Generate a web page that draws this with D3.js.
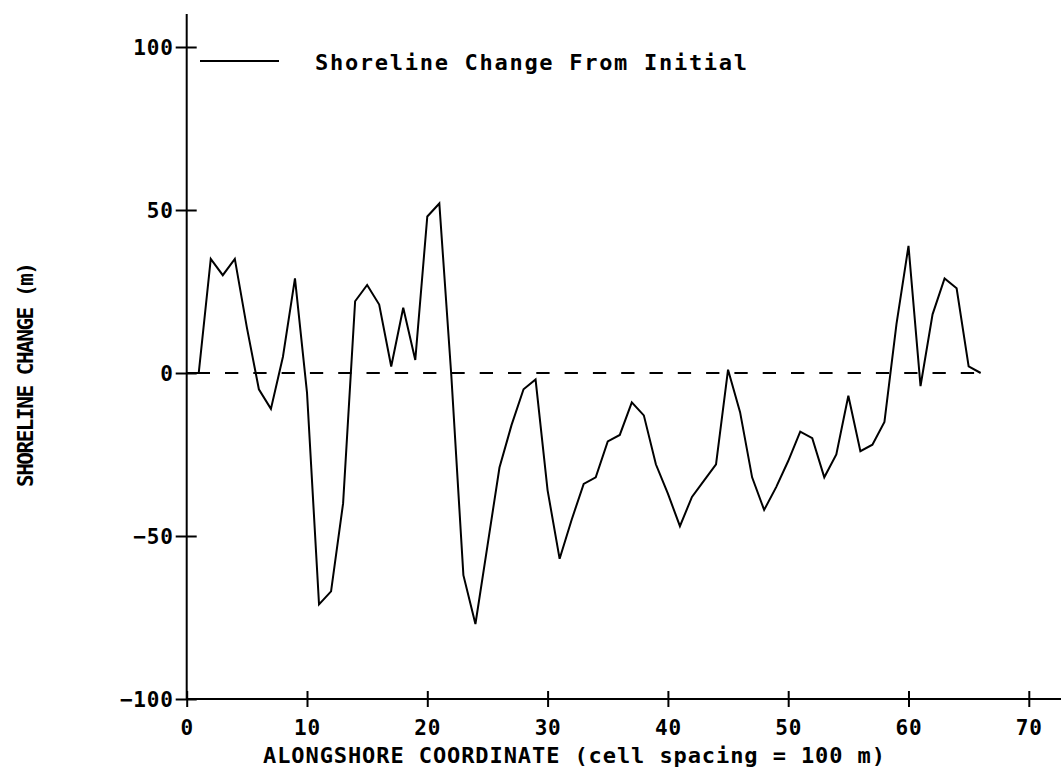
<!DOCTYPE html>
<html>
<head>
<meta charset="utf-8">
<script src="https://cdn.jsdelivr.net/npm/d3@7"></script>
<style>
  html, body { margin: 0; padding: 0; background: #fff; }
  svg { display: block; }
  text { font-family: "DejaVu Sans Mono", "Liberation Mono", monospace; font-weight: bold; fill: #000; }
</style>
</head>
<body>
<svg id="chart" width="1061" height="771"></svg>
<script>
// Alongshore cell numbers and shoreline change from the initial position (m)
const cells = [0,1,2,3,4,5,6,7,8,9,10,11,12,13,14,15,16,17,18,19,20,21,22,23,24,25,26,27,28,29,30,31,32,33,
  34,35,36,37,38,39,40,41,42,43,44,45,46,47,48,49,50,51,52,53,54,55,56,57,58,59,60,61,62,63,64,65,66];
const change = [0,0,35,30,35,14,-5,-11,5,29,-6,-71,-67,-40,22,27,21,2,20,4,48,52,-1,-62,-77,-53,-29,-16,-5,-2,
  -36,-57,-45,-34,-32,-21,-19,-9,-13,-28,-37,-47,-38,-33,-28,1,-12,-32,-42,-35,-27,-18,-20,-32,-25,-7,-24,-22,-15,
  15,39,-4,18,29,26,2,0];

const xTicks = [0, 10, 20, 30, 40, 50, 60, 70];
const yTicks = [-100, -50, 0, 50, 100];
const seriesName = "Shoreline Change From Initial";
const xTitle = "ALONGSHORE COORDINATE (cell spacing = 100 m)";
const yTitle = "SHORELINE CHANGE (m)";

const svg = d3.select("#chart");
const ink = "#000";

const x = d3.scaleLinear().domain([0, 70]).range([186.7, 1028.8]);
const y = d3.scaleLinear().domain([-100, 100]).range([699, 47]);

// axis lines
svg.append("line").attr("x1", x(0)).attr("x2", 1061).attr("y1", y(-100)).attr("y2", y(-100))
  .attr("stroke", ink).attr("stroke-width", 2);
svg.append("line").attr("x1", x(0)).attr("x2", x(0)).attr("y1", 14).attr("y2", y(-100))
  .attr("stroke", ink).attr("stroke-width", 2);

// x axis ticks and labels
const gx = svg.append("g").attr("transform", `translate(0,${y(-100)})`)
  .call(d3.axisBottom(x).tickValues(xTicks).tickFormat(d3.format("d")).tickSize(8));
gx.select(".domain").remove();
gx.selectAll(".tick line").attr("y1", -8).attr("y2", 8).attr("stroke", ink).attr("stroke-width", 2);
gx.selectAll(".tick text").attr("y", 35.5).attr("dy", null)
  .attr("font-size", 21).attr("font-family", null).attr("letter-spacing", 0.8);

// y axis ticks and labels
const gy = svg.append("g").attr("transform", `translate(${x(0)},0)`)
  .call(d3.axisLeft(y).tickValues(yTicks).tickFormat(d3.format("d")).tickSize(11));
gy.select(".domain").remove();
gy.selectAll(".tick line").attr("x1", -11).attr("x2", 10).attr("stroke", ink).attr("stroke-width", 2);
gy.selectAll(".tick text").attr("x", -13).attr("dy", "0.37em")
  .attr("font-size", 21).attr("font-family", null).attr("letter-spacing", 0.8);

// zero reference line
svg.append("line")
  .attr("x1", x(cells[0])).attr("x2", x(cells[cells.length - 1]))
  .attr("y1", y(0)).attr("y2", y(0))
  .attr("stroke", ink).attr("stroke-width", 2)
  .attr("stroke-dasharray", "13.3 15").attr("stroke-dashoffset", 18.3);

// shoreline change line
const line = d3.line().x((d, i) => x(cells[i])).y(d => y(d));
svg.append("path").datum(change)
  .attr("d", line).attr("fill", "none")
  .attr("stroke", ink).attr("stroke-width", 2).attr("stroke-linejoin", "miter");

// legend
svg.append("line").attr("x1", 200).attr("x2", 279).attr("y1", 61).attr("y2", 61)
  .attr("stroke", ink).attr("stroke-width", 2);
svg.append("text").attr("x", 315).attr("y", 69.5)
  .attr("font-size", 22).attr("textLength", 432).attr("lengthAdjust", "spacing")
  .text(seriesName);

// axis titles
svg.append("text").attr("x", 263).attr("y", 763)
  .attr("font-size", 22).attr("textLength", 622).attr("lengthAdjust", "spacing")
  .text(xTitle);
svg.append("text").attr("transform", "translate(33,487) rotate(-90)")
  .attr("x", 0).attr("y", 0)
  .attr("font-size", 21).attr("textLength", 225).attr("lengthAdjust", "spacing")
  .text(yTitle);
</script>
</body>
</html>
